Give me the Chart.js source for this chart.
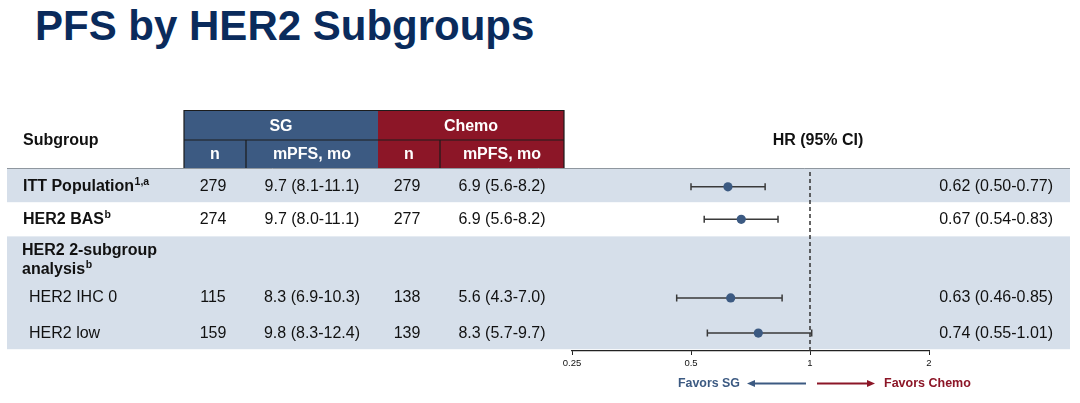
<!DOCTYPE html>
<html>
<head>
<meta charset="utf-8">
<script src="https://cdn.jsdelivr.net/npm/chart.js@4.4.1/dist/chart.umd.min.js"></script>
<style>
html,body{margin:0;padding:0;background:#fff;}
#wrap{position:relative;width:1080px;height:403px;overflow:hidden;background:#fff;}
#title{position:absolute;left:35px;top:5px;margin:0;font:bold 42px "Liberation Sans",Arial,sans-serif;line-height:42px;color:#0a2b5c;white-space:nowrap;}
#box{position:absolute;left:0;top:0;width:1080px;height:403px;}
</style>
</head>
<body>
<div id="wrap">
  <h1 id="title">PFS by HER2 Subgroups</h1>
  <div id="box"><canvas id="c"></canvas></div>
</div>
<script>
// ---------- data ----------
const subgroups   = ['ITT Population', 'HER2 BAS', 'HER2 IHC 0', 'HER2 low'];
const subgroupSup = ['1,a', 'b', '', ''];
const groupLabel  = ['HER2 2-subgroup', 'analysis'];
const groupSup    = 'b';
const sgN         = ['279', '274', '115', '159'];
const sgMpfs      = ['9.7 (8.1-11.1)', '9.7 (8.0-11.1)', '8.3 (6.9-10.3)', '9.8 (8.3-12.4)'];
const chemoN      = ['279', '277', '138', '139'];
const chemoMpfs   = ['6.9 (5.6-8.2)', '6.9 (5.6-8.2)', '5.6 (4.3-7.0)', '8.3 (5.7-9.7)'];
const hr          = [0.62, 0.67, 0.63, 0.74];
const hrLow       = [0.50, 0.54, 0.46, 0.55];
const hrHigh      = [0.77, 0.83, 0.85, 1.01];
const hrLabels    = ['0.62 (0.50-0.77)', '0.67 (0.54-0.83)', '0.63 (0.46-0.85)', '0.74 (0.55-1.01)'];
const xTicks      = [0.25, 0.5, 1, 2];
const headerArms  = ['SG', 'Chemo'];
const headerCols  = ['n', 'mPFS, mo', 'n', 'mPFS, mo'];

// ---------- layout (row positions in row units) ----------
const rowY     = [0.55, 1.5, 3.8, 4.83];
const indent   = [false, false, true, true];
const boldRow  = [true, true, false, false];
const groupY   = [2.42, 2.97];
const bands    = [[0, 1], [2, 5.3]];
const Y_MAX    = 5.353;

const F = '"Liberation Sans", Arial, Helvetica, sans-serif';
const BLUE = '#3c5a82', RED = '#8c1627', SHADE = '#d6dfea', INK = '#111111';

function txt(ctx, s, x, y, o) {
  o = o || {};
  ctx.font = (o.bold ? 'bold ' : '') + (o.size || 16) + 'px ' + F;
  ctx.fillStyle = o.color || INK;
  ctx.textAlign = o.align || 'left';
  ctx.textBaseline = 'middle';
  ctx.fillText(s, x, y);
  return ctx.measureText(s).width;
}

const tablePlugin = {
  id: 'tablePlugin',
  beforeDraw(chart) {
    const { ctx, chartArea: a, scales: { y } } = chart;
    ctx.save();
    ctx.fillStyle = SHADE;
    bands.forEach(([t, b]) => {
      const y0 = y.getPixelForValue(t), y1 = y.getPixelForValue(b);
      ctx.fillRect(7, y0, 1063, y1 - y0);
    });
    ctx.strokeStyle = '#8f979f';
    ctx.lineWidth = 1;
    ctx.beginPath();
    ctx.moveTo(7, Math.round(a.top) + 0.5);
    ctx.lineTo(1070, Math.round(a.top) + 0.5);
    ctx.stroke();
    ctx.restore();
  },
  beforeDatasetsDraw(chart) {
    const { ctx, chartArea: a, scales: { x, y } } = chart;
    ctx.save();
    // reference line at HR = 1
    const x1 = x.getPixelForValue(1);
    ctx.strokeStyle = '#333';
    ctx.lineWidth = 1.5;
    ctx.setLineDash([4, 3]);
    ctx.beginPath();
    ctx.moveTo(x1, a.top + 4);
    ctx.lineTo(x1, a.bottom);
    ctx.stroke();
    ctx.setLineDash([]);
    // error bars
    ctx.strokeStyle = '#3a3a3a';
    ctx.lineWidth = 1.5;
    hr.forEach((v, i) => {
      const yy = y.getPixelForValue(rowY[i]);
      const xl = x.getPixelForValue(hrLow[i]), xh = x.getPixelForValue(hrHigh[i]);
      ctx.beginPath();
      ctx.moveTo(xl, yy); ctx.lineTo(xh, yy);
      ctx.moveTo(xl, yy - 3.5); ctx.lineTo(xl, yy + 3.5);
      ctx.moveTo(xh, yy - 3.5); ctx.lineTo(xh, yy + 3.5);
      ctx.stroke();
    });
    ctx.restore();
  },
  afterDraw(chart) {
    const { ctx, chartArea: a, scales: { x, y } } = chart;
    ctx.save();
    // ----- header block -----
    const hTop = a.top - 57.5, hMid = a.top - 28, hBot = a.top;
    const c = [184, 246, 378, 440, 564];
    ctx.fillStyle = BLUE; ctx.fillRect(c[0], hTop, c[2] - c[0], hBot - hTop);
    ctx.fillStyle = RED;  ctx.fillRect(c[2], hTop, c[4] - c[2], hBot - hTop);
    ctx.strokeStyle = '#1c1c1c';
    ctx.lineWidth = 1.2;
    ctx.beginPath();
    ctx.moveTo(c[0], hBot); ctx.lineTo(c[0], hTop); ctx.lineTo(c[4], hTop); ctx.lineTo(c[4], hBot);
    ctx.moveTo(c[0], hMid); ctx.lineTo(c[4], hMid);
    ctx.moveTo(c[1], hMid); ctx.lineTo(c[1], hBot);
    ctx.moveTo(c[3], hMid); ctx.lineTo(c[3], hBot);
    ctx.stroke();
    txt(ctx, headerArms[0], (c[0] + c[2]) / 2, (hTop + hMid) / 2 + 1, { bold: true, color: '#fff', align: 'center' });
    txt(ctx, headerArms[1], (c[2] + c[4]) / 2, (hTop + hMid) / 2 + 1, { bold: true, color: '#fff', align: 'center' });
    const colC = [215, 312, 409, 502];
    headerCols.forEach((s, i) => txt(ctx, s, colC[i], (hMid + hBot) / 2 + 0.5, { bold: true, color: '#fff', align: 'center' }));
    txt(ctx, 'Subgroup', 23, a.top - 27.5, { bold: true });
    txt(ctx, 'HR (95% CI)', 818, a.top - 27.5, { bold: true, align: 'center' });

    // ----- group label -----
    txt(ctx, groupLabel[0], 22, y.getPixelForValue(groupY[0]), { bold: true });
    const gw = txt(ctx, groupLabel[1], 22, y.getPixelForValue(groupY[1]), { bold: true });
    txt(ctx, groupSup, 22 + gw + 0.5, y.getPixelForValue(groupY[1]) - 4, { bold: true, size: 10.5 });

    // ----- rows -----
    subgroups.forEach((s, i) => {
      const yy = y.getPixelForValue(rowY[i]);
      const lx = indent[i] ? 29 : 23;
      const w = txt(ctx, s, lx, yy, { bold: boldRow[i] });
      if (subgroupSup[i]) txt(ctx, subgroupSup[i], lx + w + 0.5, yy - 4.5, { bold: true, size: 10.5 });
      txt(ctx, sgN[i], colC[0] - 2, yy, { align: 'center' });
      txt(ctx, sgMpfs[i], colC[1], yy, { align: 'center' });
      txt(ctx, chemoN[i], colC[2] - 2, yy, { align: 'center' });
      txt(ctx, chemoMpfs[i], colC[3], yy, { align: 'center' });
      txt(ctx, hrLabels[i], 1053, yy, { align: 'right' });
    });

    // ----- favours arrows -----
    const x1 = x.getPixelForValue(1);
    const ya = a.bottom + 32.5;
    ctx.lineWidth = 1.8;
    // left (SG)
    ctx.strokeStyle = BLUE; ctx.fillStyle = BLUE;
    ctx.beginPath(); ctx.moveTo(x1 - 4, ya); ctx.lineTo(x1 - 56, ya); ctx.stroke();
    ctx.beginPath(); ctx.moveTo(x1 - 63, ya); ctx.lineTo(x1 - 55, ya - 3.5); ctx.lineTo(x1 - 55, ya + 3.5); ctx.closePath(); ctx.fill();
    txt(ctx, 'Favors SG', x1 - 70, ya, { bold: true, size: 12.4, color: BLUE, align: 'right' });
    // right (Chemo)
    ctx.strokeStyle = RED; ctx.fillStyle = RED;
    ctx.beginPath(); ctx.moveTo(x1 + 7, ya); ctx.lineTo(x1 + 58, ya); ctx.stroke();
    ctx.beginPath(); ctx.moveTo(x1 + 65, ya); ctx.lineTo(x1 + 57, ya - 3.5); ctx.lineTo(x1 + 57, ya + 3.5); ctx.closePath(); ctx.fill();
    txt(ctx, 'Favors Chemo', x1 + 74, ya, { bold: true, size: 12.5, color: RED, align: 'left' });
    ctx.restore();
  }
};

new Chart(document.getElementById('c'), {
  type: 'scatter',
  data: {
    datasets: [{
      data: hr.map((v, i) => ({ x: v, y: rowY[i] })),
      pointRadius: 4.6,
      pointBackgroundColor: BLUE,
      pointBorderColor: BLUE,
      pointBorderWidth: 0,
      showLine: false
    }]
  },
  options: {
    responsive: true,
    maintainAspectRatio: false,
    animation: false,
    events: [],
    layout: { padding: { left: 572, right: 151, top: 168, bottom: 30.6 } },
    plugins: { legend: { display: false }, tooltip: { enabled: false }, title: { display: false } },
    scales: {
      x: {
        type: 'logarithmic',
        min: 0.25,
        max: 2,
        afterBuildTicks: (s) => { s.ticks = xTicks.map(v => ({ value: v })); },
        ticks: {
          autoSkip: false, maxRotation: 0, padding: 3,
          color: '#111', font: { family: F, size: 9.5 },
          callback: (v) => String(v)
        },
        grid: { drawOnChartArea: false, drawTicks: true, tickLength: 4, color: '#222', lineWidth: 1 },
        border: { display: true, color: '#222', width: 1.2 }
      },
      y: { type: 'linear', min: 0, max: Y_MAX, reverse: true, display: false }
    }
  },
  plugins: [tablePlugin]
});
</script>
</body>
</html>
